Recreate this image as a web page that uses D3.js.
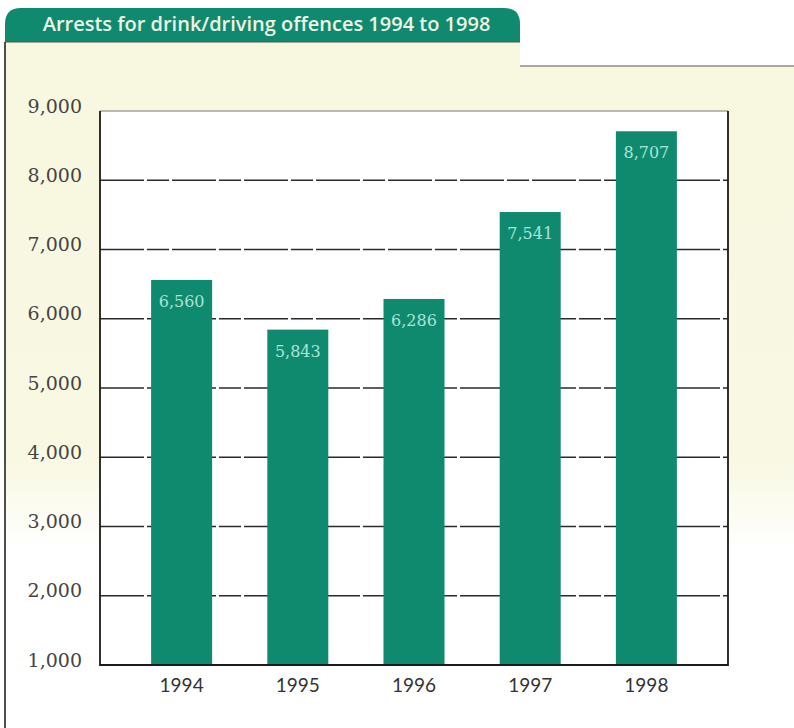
<!DOCTYPE html>
<html>
<head>
<meta charset="utf-8">
<script src="https://cdn.jsdelivr.net/npm/d3@7"></script>
<style>
  body { margin: 0; background: #fff; }
</style>
</head>
<body>
<div id="chart"></div>
<script>
// Chart data
const years = ["1994", "1995", "1996", "1997", "1998"];
const arrests = [6560, 5843, 6286, 7541, 8707];
const yTicks = [1000, 2000, 3000, 4000, 5000, 6000, 7000, 8000, 9000];
const title = "Arrests for drink/driving offences 1994 to 1998";

const width = 794, height = 728;
const plot = { left: 100, right: 728, top: 111, bottom: 665 };
const green = "#0f8a6e";
const formatNumber = d3.format(",d");

const svg = d3.select("#chart").append("svg")
    .attr("width", width)
    .attr("height", height);

// Title tab geometry (rounded top corners)
const tab = { x: 5, y: 8, w: 515, h: 34, r: 16 };
const panelTop = 66; // top rule to the right of the tab

// Cream panel fading to white at the bottom
const defs = svg.append("defs");
const grad = defs.append("linearGradient")
    .attr("id", "cream")
    .attr("gradientUnits", "userSpaceOnUse")
    .attr("x1", 0).attr("y1", 42).attr("x2", 0).attr("y2", 552);
grad.append("stop").attr("offset", "0%").attr("stop-color", "#f8f8e1");
grad.append("stop").attr("offset", "82%").attr("stop-color", "#f8f8e3");
grad.append("stop").attr("offset", "100%").attr("stop-color", "#ffffff");

svg.append("path")
    .attr("d", `M5,${tab.y + tab.h} H${tab.x + tab.w} V${panelTop} H${width} V552 H5 Z`)
    .attr("fill", "url(#cream)");

svg.append("path")
    .attr("d", `M${tab.x},${tab.y + tab.h}
      V${tab.y + tab.r} Q${tab.x},${tab.y} ${tab.x + tab.r},${tab.y}
      H${tab.x + tab.w - tab.r} Q${tab.x + tab.w},${tab.y} ${tab.x + tab.w},${tab.y + tab.r}
      V${tab.y + tab.h} Z`)
    .attr("fill", green);

svg.append("text")
    .attr("x", tab.x + tab.w / 2 + 4)
    .attr("y", tab.y + 23)
    .attr("text-anchor", "middle")
    .style("font", "600 20px 'Open Sans', Lato, sans-serif")
    .attr("fill", "#eef3e4")
    .text(title);

// Panel outline: rules under the tab, to the right, and down the left side
svg.append("line")
    .attr("x1", 5).attr("x2", tab.x + tab.w)
    .attr("y1", tab.y + tab.h).attr("y2", tab.y + tab.h)
    .attr("stroke", "#555").attr("stroke-width", 1.2);
svg.append("line")
    .attr("x1", tab.x + tab.w).attr("x2", width)
    .attr("y1", panelTop).attr("y2", panelTop)
    .attr("stroke", "#555").attr("stroke-width", 1.2);
svg.append("line")
    .attr("x1", 5).attr("x2", 5)
    .attr("y1", tab.y + tab.h).attr("y2", height)
    .attr("stroke", "#222").attr("stroke-width", 1.6);

// Scales
const x = d3.scaleBand()
    .domain(years)
    .range([plot.left, plot.right])
    .paddingInner(0.475)
    .paddingOuter(0.44);
const y = d3.scaleLinear()
    .domain([1000, 9000])
    .range([plot.bottom, plot.top]);

// White plot area
svg.append("rect")
    .attr("x", plot.left).attr("y", plot.top)
    .attr("width", plot.right - plot.left)
    .attr("height", plot.bottom - plot.top)
    .attr("fill", "#fff");

// Gridlines
svg.append("g")
    .selectAll("line")
    .data(yTicks.filter(d => d > 1000 && d < 9000))
    .enter().append("line")
    .attr("x1", plot.left).attr("x2", plot.right)
    .attr("y1", d => y(d)).attr("y2", d => y(d))
    .attr("stroke", "#2a2a2a")
    .attr("stroke-width", 1.3)
    .attr("stroke-dasharray", "44 3 22 3");

// Y axis labels
const yAxis = d3.axisLeft(y).tickValues(yTicks).tickSize(0).tickPadding(18)
    .tickFormat(formatNumber);
svg.append("g")
    .attr("transform", `translate(${plot.left},-5)`)
    .call(yAxis)
    .call(g => g.select(".domain").remove())
    .selectAll("text")
    .style("font", "19px 'DejaVu Serif', serif")
    .attr("fill", "#444");

// Bars
svg.append("g")
    .selectAll("rect")
    .data(arrests)
    .enter().append("rect")
    .attr("x", (d, i) => x(years[i]))
    .attr("y", d => y(d))
    .attr("width", x.bandwidth())
    .attr("height", d => y(1000) - y(d))
    .attr("fill", green);

// Value labels inside bar tops
svg.append("g")
    .selectAll("text")
    .data(arrests)
    .enter().append("text")
    .attr("x", (d, i) => x(years[i]) + x.bandwidth() / 2)
    .attr("y", d => y(d) + 27)
    .attr("text-anchor", "middle")
    .style("font", "16px 'DejaVu Serif', serif")
    .attr("fill", "#a9e4da")
    .text(d => formatNumber(d));

// Plot frame
svg.append("line")
    .attr("x1", plot.left).attr("x2", plot.right)
    .attr("y1", plot.top).attr("y2", plot.top)
    .attr("stroke", "#777").attr("stroke-width", 1);
svg.append("path")
    .attr("d", `M${plot.left},${plot.top}V${plot.bottom}H${plot.right}V${plot.top}`)
    .attr("fill", "none")
    .attr("stroke", "#1a1a1a")
    .attr("stroke-width", 1.8);

// X axis labels
const xAxis = d3.axisBottom(x).tickSize(0).tickPadding(14);
svg.append("g")
    .attr("transform", `translate(0,${plot.bottom})`)
    .call(xAxis)
    .call(g => g.select(".domain").remove())
    .selectAll("text")
    .style("font", "19px Lato, 'Open Sans', sans-serif")
    .attr("fill", "#333");
</script>
</body>
</html>
